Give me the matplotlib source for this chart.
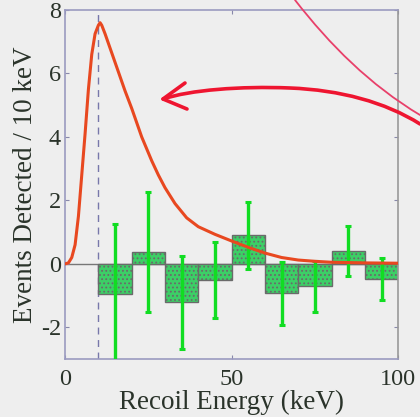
import matplotlib
matplotlib.use('Agg')
import matplotlib.pyplot as plt
from matplotlib.path import Path
from matplotlib.patches import PathPatch
import numpy as np

# residual histogram (events per 10 keV bin)
bin_lo = [10, 20, 30, 40, 50, 60, 70, 80, 90]
bin_vals = [-0.95, 0.37, -1.2, -0.5, 0.92, -0.93, -0.71, 0.39, -0.48]
err_hi = [1.26, 2.28, 0.25, 0.70, 1.96, 0.07, 0.10, 1.18, 0.20]
err_lo = [-3.3, -1.52, -2.68, -1.71, -0.16, -1.94, -1.52, -0.38, -1.13]

# expected signal curve
curve_e = [0, 1, 2, 3, 4, 5, 6, 7, 8, 9, 10, 10.5, 11, 12, 13, 14, 16, 18, 20,
           23, 26, 28, 30, 33, 36.5, 40, 45, 50, 55, 60, 65, 70, 75, 80, 90, 100]
curve_r = [0, 0.03, 0.2, 0.6, 1.5, 2.8, 4.1, 5.5, 6.6, 7.25, 7.52, 7.6, 7.52,
           7.25, 6.95, 6.65, 6.05, 5.45, 4.9, 4.0, 3.25, 2.8, 2.4, 1.9, 1.45,
           1.17, 0.93, 0.72, 0.52, 0.34, 0.2, 0.12, 0.08, 0.05, 0.03, 0.02]

threshold = 10

bg = '#eeeeee'
txt = '#2a332a'
plt.rcParams['font.family'] = ['Liberation Serif', 'DejaVu Serif']
plt.rcParams['axes.unicode_minus'] = False
plt.rcParams['hatch.color'] = '#7fe8a0'
plt.rcParams['hatch.linewidth'] = 0.8

fig = plt.figure(figsize=(4.2, 4.17), dpi=100, facecolor=bg)
ax = fig.add_axes([0.155, 0.139, 0.793, 0.837], facecolor=bg)

centers = [b + 5 for b in bin_lo]
ax.bar(centers, bin_vals, width=10, color='#3ccf66', edgecolor='#6a6a6a',
       linewidth=1.0, hatch='....', zorder=2)
yerr = [np.array(bin_vals) - np.array(err_lo), np.array(err_hi) - np.array(bin_vals)]
ax.errorbar(centers, bin_vals, yerr=yerr, fmt='none', ecolor='#11dd22',
            elinewidth=2.4, capsize=2.2, capthick=2.2, zorder=3)

ax.axhline(0, color='#777777', lw=1.0, zorder=1)
ax.axvline(threshold, color='#7777aa', lw=1.0, ls=(0, (5, 4)), zorder=1)
ax.plot(curve_e, curve_r, color='#e84820', lw=2.2, zorder=4)

ax.set_xlim(0, 100)
ax.set_ylim(-3, 8)
ax.set_xticks([0, 50, 100])
ax.set_yticks([-2, 0, 2, 4, 6, 8])
ax.tick_params(direction='in', top=True, right=True, length=3,
               color='#8888aa', labelsize=17.5, labelcolor=txt)
ax.tick_params(axis='x', pad=7)
ax.tick_params(axis='y', pad=3)
for s in ax.spines.values():
    s.set_color('#9a9ac0')
    s.set_linewidth(1.2)
ax.spines['right'].set_color('#999999')
ax.set_xlabel('Recoil Energy (keV)', fontsize=19.5, color=txt, labelpad=0)
ax.set_ylabel('Events Detected / 10 keV', fontsize=19.5, color=txt, labelpad=2)


def sketch(pts, codes, color, lw):
    # hand-drawn annotation in figure pixel coordinates
    pts = np.array(pts, dtype=float)
    verts = np.column_stack([pts[:, 0] / 420, 1 - pts[:, 1] / 417])
    fig.add_artist(PathPatch(Path(verts, codes), transform=fig.transFigure,
                             fill=False, edgecolor=color, lw=lw,
                             capstyle='round', joinstyle='round'))


C4, MV, LN = Path.CURVE4, Path.MOVETO, Path.LINETO
sketch([(295, 0), (330, 45), (370, 85), (420, 115)], [MV, C4, C4, C4],
       '#e8406a', 1.3)
sketch([(163, 99), (190, 90), (240, 86), (290, 88),
        (340, 90), (385, 102), (420, 124)],
       [MV, C4, C4, C4, C4, C4, C4], '#ee1530', 2.6)
sketch([(185, 83), (163, 99), (187, 109)], [MV, LN, LN], '#ee1530', 2.6)

fig.savefig('out.png', dpi=100, facecolor=bg)
